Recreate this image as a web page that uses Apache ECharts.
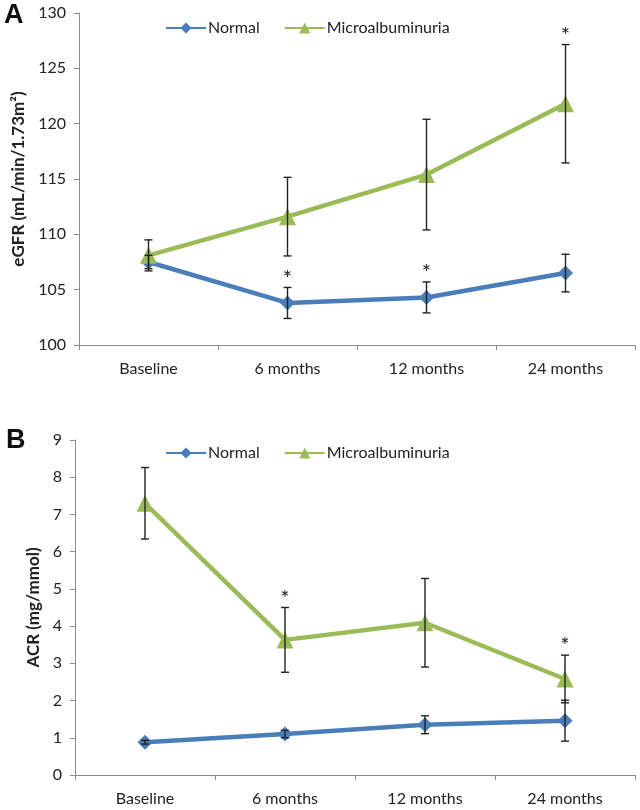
<!DOCTYPE html>
<html>
<head>
<meta charset="utf-8">
<script src="https://cdn.jsdelivr.net/npm/echarts@6/dist/echarts.min.js"></script>
<style>html,body{margin:0;padding:0;background:#fff}#c{width:640px;height:810px}</style>
</head>
<body>
<div id="c"></div>
<script>
const categories = ['Baseline', '6 months', '12 months', '24 months'];
const seriesNames = ['Normal', 'Microalbuminuria'];

// Panel A: eGFR
const egfrNormal = [107.5, 103.8, 104.3, 106.5];
const egfrNormalErr = [0.6, 1.4, 1.4, 1.7];
const egfrMicro = [108.1, 111.6, 115.4, 121.8];
const egfrMicroErr = [1.4, 3.55, 5.0, 5.35];
const egfrNormalStar = [false, true, true, false];
const egfrMicroStar = [false, false, false, true];
const egfrTicks = [100, 105, 110, 115, 120, 125, 130];

// Panel B: ACR
const acrNormal = [0.88, 1.10, 1.35, 1.46];
const acrNormalErr = [0.05, 0.1, 0.24, 0.55];
const acrMicro = [7.3, 3.63, 4.09, 2.58];
const acrMicroErr = [0.96, 0.87, 1.19, 0.64];
const acrNormalStar = [false, false, false, false];
const acrMicroStar = [false, true, false, true];
const acrTicks = [0, 1, 2, 3, 4, 5, 6, 7, 8, 9];

const BLUE = '#4a7ebb';
const GREEN = '#9bbb59';
const FONT = 'Lato';

function errData(vals, errs) {
  return vals.map((v, i) => [i, v - errs[i], v + errs[i]]);
}
function starData(vals, errs, flags) {
  const out = [];
  flags.forEach((f, i) => { if (f) out.push([i, vals[i] + errs[i]]); });
  return out;
}
function errSeries(idx, vals, errs) {
  return {
    type: 'custom', xAxisIndex: idx, yAxisIndex: idx, z: 5, silent: true,
    data: errData(vals, errs),
    renderItem: function (params, api) {
      const lo = api.coord([api.value(0), api.value(1)]);
      const hi = api.coord([api.value(0), api.value(2)]);
      const w = 4;
      const st = { stroke: '#222', lineWidth: 1.4 };
      return { type: 'group', children: [
        { type: 'line', shape: { x1: hi[0], y1: hi[1], x2: lo[0], y2: lo[1] }, style: st },
        { type: 'line', shape: { x1: hi[0] - w, y1: hi[1], x2: hi[0] + w, y2: hi[1] }, style: st },
        { type: 'line', shape: { x1: lo[0] - w, y1: lo[1], x2: lo[0] + w, y2: lo[1] }, style: st }
      ]};
    }
  };
}
function starSeries(idx, vals, errs, flags) {
  return {
    type: 'custom', xAxisIndex: idx, yAxisIndex: idx, z: 6, silent: true,
    data: starData(vals, errs, flags),
    renderItem: function (params, api) {
      const p = api.coord([api.value(0), api.value(1)]);
      return { type: 'text', x: p[0], y: p[1] + 2,
        style: { text: '*', fill: '#222', font: '22px ' + FONT, align: 'center', verticalAlign: 'bottom' } };
    }
  };
}
function lineSeries(idx, name, vals, color, symbol, size) {
  return {
    type: 'line', name: name, xAxisIndex: idx, yAxisIndex: idx, data: vals,
    symbol: symbol, symbolSize: size, showAllSymbol: true,
    lineStyle: { color: color, width: 4.5 }, itemStyle: { color: color },
    z: 3
  };
}

const axisLabelStyle = { color: '#222', fontFamily: FONT, fontSize: 16 };
const axisLineStyle = { lineStyle: { color: '#8c8c8c', width: 1 } };

function xAxis(idx) {
  return {
    type: 'category', gridIndex: idx, data: categories, boundaryGap: true,
    axisLine: axisLineStyle, axisTick: { show: true, alignWithLabel: false, length: 5, lineStyle: { color: '#8c8c8c' } },
    axisLabel: Object.assign({ margin: 16 }, axisLabelStyle), splitLine: { show: false }
  };
}
function yAxis(idx, ticks, name, gap) {
  return {
    type: 'value', gridIndex: idx, min: ticks[0], max: ticks[ticks.length - 1],
    interval: ticks[1] - ticks[0],
    name: name, nameLocation: 'middle', nameGap: gap, nameRotate: 90,
    nameTextStyle: { fontFamily: FONT, fontSize: 17, fontWeight: 'bold', color: '#222' },
    axisLine: Object.assign({ show: true }, axisLineStyle),
    axisTick: { show: true, length: 5, lineStyle: { color: '#8c8c8c' } },
    axisLabel: Object.assign({ margin: 13 }, axisLabelStyle),
    splitLine: { show: false }
  };
}

const legendText = { fontFamily: FONT, fontSize: 16, color: '#222', padding: [0, 0, 0, -3] };

const chart = echarts.init(document.getElementById('c'), null, { renderer: 'canvas' });
chart.setOption({
  animation: false,
  backgroundColor: '#fff',
  textStyle: { fontFamily: FONT },
  grid: [
    { left: 79, right: 5, top: 13, height: 332 },
    { left: 75, right: 5, top: 440, height: 335 }
  ],
  legend: [
    { data: seriesNames, left: 160, top: 15, itemWidth: 40, itemHeight: 14, itemGap: 24,
      textStyle: legendText },
    { data: seriesNames, left: 160, top: 440, itemWidth: 40, itemHeight: 14, itemGap: 24,
      textStyle: legendText }
  ],
  graphic: [
    { type: 'text', left: 4, top: 2, style: { text: 'A', font: 'bold 27px "Liberation Sans"', fill: '#111' } },
    { type: 'text', left: 6, top: 427, style: { text: 'B', font: 'bold 27px "Liberation Sans"', fill: '#111' } }
  ],
  xAxis: [xAxis(0), xAxis(1)],
  yAxis: [
    yAxis(0, egfrTicks, 'eGFR (mL/min/1.73m²)', 50),
    yAxis(1, acrTicks, 'ACR (mg/mmol)', 33)
  ],
  series: [
    lineSeries(0, 'Normal', egfrNormal, BLUE, 'diamond', 15),
    lineSeries(0, 'Microalbuminuria', egfrMicro, GREEN, 'triangle', 17),
    errSeries(0, egfrNormal, egfrNormalErr),
    errSeries(0, egfrMicro, egfrMicroErr),
    starSeries(0, egfrNormal, egfrNormalErr, egfrNormalStar),
    starSeries(0, egfrMicro, egfrMicroErr, egfrMicroStar),
    lineSeries(1, 'Normal', acrNormal, BLUE, 'diamond', 15),
    lineSeries(1, 'Microalbuminuria', acrMicro, GREEN, 'triangle', 17),
    errSeries(1, acrNormal, acrNormalErr),
    errSeries(1, acrMicro, acrMicroErr),
    starSeries(1, acrNormal, acrNormalErr, acrNormalStar),
    starSeries(1, acrMicro, acrMicroErr, acrMicroStar)
  ]
});
</script>
</body>
</html>
